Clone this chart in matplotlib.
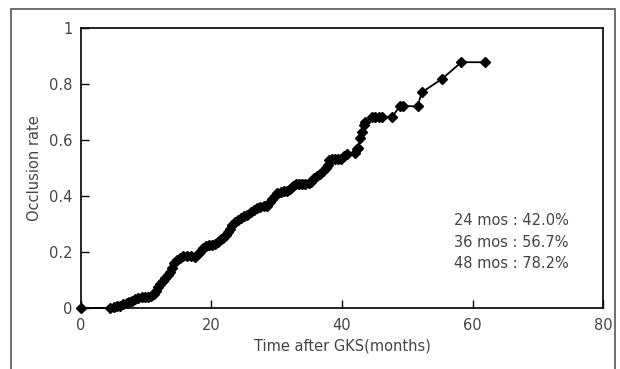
import matplotlib
matplotlib.use("Agg")
import matplotlib.pyplot as plt
from matplotlib.patches import Rectangle

# months after GKS and cumulative occlusion rate
months = [0, 4.5, 5.0, 5.5, 6.0, 6.5, 7.0, 7.4, 7.8, 8.3, 8.8, 9.3, 9.8, 10.3,
          10.8, 11.2, 11.5, 11.8, 12.1, 12.5, 12.9, 13.3, 13.7, 14.0, 14.3,
          14.7, 15.1, 15.6, 16.2, 16.8, 17.4, 17.9, 18.3, 18.7, 19.1, 19.6,
          20.1, 20.6, 21.0, 21.4, 21.8, 22.2, 22.5, 22.8, 23.2, 23.6, 24.0,
          24.5, 25.0, 25.5, 26.0, 26.5, 27.0, 27.5, 28.0, 28.5, 28.9, 29.3,
          29.7, 30.1, 30.6, 31.1, 31.6, 32.1, 32.5, 32.9, 33.4, 33.9, 34.4,
          34.9, 35.3, 35.7, 36.2, 36.7, 37.1, 37.5, 37.8, 38.0, 38.4, 38.9,
          39.4, 39.9, 40.3, 40.8, 42.0, 42.3, 42.5, 42.8, 43.0, 43.4, 43.6,
          44.6, 45.1, 45.6, 46.1, 47.7, 48.9, 49.3, 51.6, 52.2, 55.3, 58.3,
          61.9]
occlusion = [0, 0, 0.003, 0.006, 0.009, 0.013, 0.018, 0.022, 0.027, 0.032,
             0.036, 0.038, 0.041, 0.041, 0.043, 0.050, 0.062, 0.075, 0.086,
             0.096, 0.106, 0.118, 0.130, 0.145, 0.160, 0.172, 0.180, 0.185,
             0.186, 0.186, 0.184, 0.192, 0.200, 0.214, 0.222, 0.226, 0.226,
             0.228, 0.236, 0.246, 0.252, 0.262, 0.272, 0.284, 0.296, 0.306,
             0.316, 0.323, 0.328, 0.334, 0.342, 0.350, 0.356, 0.362, 0.364,
             0.366, 0.378, 0.390, 0.402, 0.410, 0.416, 0.418, 0.418, 0.426,
             0.436, 0.442, 0.444, 0.444, 0.444, 0.446, 0.452, 0.464, 0.472,
             0.478, 0.488, 0.500, 0.512, 0.528, 0.533, 0.533, 0.533, 0.534,
             0.542, 0.552, 0.555, 0.569, 0.572, 0.608, 0.630, 0.655, 0.665,
             0.683, 0.683, 0.683, 0.683, 0.683, 0.722, 0.722, 0.720, 0.770,
             0.818, 0.878, 0.878]

notes = ["24 mos : 42.0%", "36 mos : 56.7%", "48 mos : 78.2%"]

plt.rcParams['font.family'] = ['DejaVu Sans']

fig = plt.figure(figsize=(6.2, 3.69), dpi=100)
ax = fig.add_axes([0.1306, 0.165, 0.842, 0.759])

# outer frame around the whole figure
fig.patches.append(Rectangle((11 / 620, -0.02), 604 / 620, 1 - 9 / 369 + 0.02,
                             transform=fig.transFigure, fill=False,
                             edgecolor='#555555', linewidth=1.2))

ax.plot(months, occlusion, color='black', linewidth=1.3, marker='D',
        markersize=4.8, clip_on=False, zorder=3)

ax.set_xlim(0, 80)
ax.set_ylim(0, 1)
ax.set_xticks([0, 20, 40, 60, 80])
ax.set_yticks([0, 0.2, 0.4, 0.6, 0.8, 1])
ax.set_yticklabels(["0", "0.2", "0.4", "0.6", "0.8", "1"])
ax.tick_params(direction='in', length=6, width=1, labelsize=10.5,
               labelcolor='#444444')
ax.tick_params(axis='x', pad=7)
ax.tick_params(axis='y', pad=6)
for s in ax.spines.values():
    s.set_linewidth(1.2)

ax.set_xlabel("Time after GKS(months)", fontsize=10.5, color='#444444', labelpad=4)
ax.set_ylabel("Occlusion rate", fontsize=10.5, color='#444444', labelpad=5)

for i, t in enumerate(notes):
    ax.text(57.2, 0.313 - i * 0.077, t, fontsize=10.5, color='#444444',
            va='center', ha='left')

fig.savefig("out.png", dpi=100)
